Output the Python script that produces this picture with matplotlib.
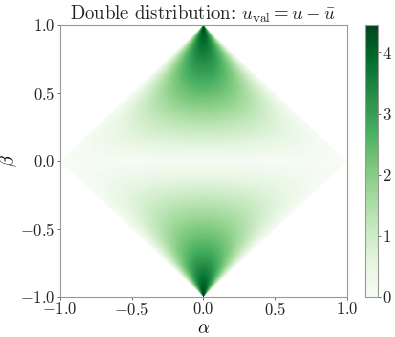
import numpy as np
import matplotlib
matplotlib.use("Agg")
import matplotlib.pyplot as plt

plt.rcParams['font.family'] = 'serif'
plt.rcParams['font.serif'] = ['cmr10']
plt.rcParams['mathtext.fontset'] = 'cm'
plt.rcParams['axes.formatter.use_mathtext'] = True
plt.rcParams['axes.unicode_minus'] = True
plt.rcParams['text.color'] = '#262626'
plt.rcParams['xtick.labelcolor'] = '#262626'
plt.rcParams['ytick.labelcolor'] = '#262626'

# centre-line (alpha = 0) values of the double distribution
beta_pts = [-1.0, -0.95, -0.9, -0.8, -0.7, -0.6, -0.5, -0.4, -0.3, -0.2, -0.1, 0.0,
            0.1, 0.2, 0.3, 0.4, 0.5, 0.6, 0.7, 0.8, 0.9, 0.95, 1.0]
centre_vals = [4.45, 4.3, 4.0, 3.5, 2.95, 2.5, 2.1, 1.7, 1.3, 0.85, 0.4, 0.05,
               0.5, 1.0, 1.45, 1.95, 2.4, 2.8, 3.2, 3.6, 4.0, 4.3, 4.45]
vmin, vmax = 0.0, 4.45
xticks = [-1.0, -0.5, 0.0, 0.5, 1.0]
yticks = [-1.0, -0.5, 0.0, 0.5, 1.0]
cbar_ticks = [0, 1, 2, 3, 4]

n = 301
a = np.linspace(-1, 1, n)
b = np.linspace(-1, 1, n)
A, B = np.meshgrid(a, b)
w = np.clip(1 - np.abs(B), 1e-6, None)
prof = (w**2 - A**2) / w**2
C = np.interp(B, beta_pts, centre_vals) * prof
C = np.where(np.abs(A) + np.abs(B) <= 1, C, np.nan)

fig = plt.figure(figsize=(3.95, 3.37), dpi=100)
ax = fig.add_axes([0.152, 0.119, 0.726, 0.807])
cax = fig.add_axes([0.924, 0.119, 0.033, 0.807])
im = ax.pcolormesh(A, B, C, cmap='Greens', vmin=vmin, vmax=vmax, shading='auto')
ax.set_xlim(-1, 1)
ax.set_ylim(-1, 1)
ax.set_xticks(xticks)
ax.set_yticks(yticks)
for s in ax.spines.values():
    s.set_color('#999999')
    s.set_linewidth(0.8)
ax.tick_params(length=2, width=0.6, color='#555555', labelsize=12, pad=1)
ax.set_xlabel(r'$\alpha$', fontsize=13, labelpad=2)
ax.set_ylabel(r'$\beta$', fontsize=13, labelpad=1)
ax.set_title(r'Double distribution: $u_{\rm val} = u - \bar{u}$', fontsize=13.5, pad=3)

cb = fig.colorbar(im, cax=cax, ticks=cbar_ticks)
cb.outline.set_edgecolor('#999999')
cb.outline.set_linewidth(0.8)
cax.tick_params(length=2, width=0.6, color='#555555', labelsize=12, pad=1)

fig.savefig('out.png', dpi=100)
